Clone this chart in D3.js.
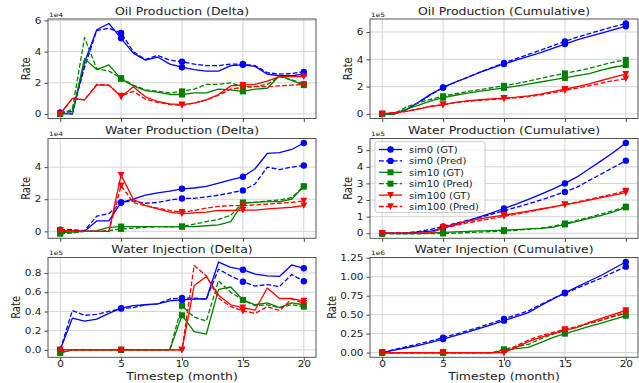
<!DOCTYPE html>
<html><head><meta charset="utf-8">
<script src="https://cdn.jsdelivr.net/npm/d3@7"></script>
<style>
body{margin:0;background:#fff}
svg text{font-family:"DejaVu Sans",sans-serif;fill:#222}
</style>
</head><body>
<svg id="c" width="639" height="383"></svg>
<script>
// ---------------- data ----------------
const timesteps = [0,1,2,3,4,5,6,7,8,9,10,11,12,13,14,15,16,17,18,19,20];
const seriesNames = ["sim0 (GT)","sim0 (Pred)","sim10 (GT)","sim10 (Pred)","sim100 (GT)","sim100 (Pred)"];

// Oil Production (Delta), x1e4
const oilD_s0_gt   = [0.05,0,3.3,5.4,5.8,4.85,3.9,3.45,3.65,3.2,3.0,2.85,2.75,2.75,3.1,3.15,3.05,2.55,2.45,2.45,2.55];
const oilD_s0_pr   = [0.1,0.15,3.0,5.35,5.5,5.2,4.0,3.5,3.75,3.45,3.35,3.2,3.1,3.1,3.2,3.2,3.1,2.65,2.55,2.6,2.7];
const oilD_s10_gt  = [0,0.05,3.55,2.85,3.15,2.25,1.8,1.5,1.4,1.25,1.25,1.35,1.35,1.6,1.55,1.45,1.6,1.65,2.45,2.15,1.85];
const oilD_s10_pr  = [0,0.3,4.9,2.9,2.75,2.3,1.85,1.55,1.45,1.35,1.45,1.6,1.9,1.9,2.0,1.75,1.75,1.9,2.4,2.2,1.9];
const oilD_s100_gt = [0,1.0,0.9,1.85,1.85,1.1,1.75,1.1,0.8,0.65,0.6,0.7,0.9,1.25,1.8,1.85,1.9,2.1,2.4,2.4,2.4];
const oilD_s100_pr = [0,1.0,0.9,1.9,1.85,1.15,1.45,0.95,0.75,0.6,0.55,0.7,0.9,1.2,1.6,1.7,1.75,1.75,1.8,1.85,1.9];

// Oil Production (Cumulative), x1e5
const oilC_s0_gt   = [0,0,0.33,0.87,1.45,1.94,2.33,2.67,3.04,3.36,3.66,3.94,4.22,4.49,4.80,5.12,5.42,5.68,5.92,6.17,6.42];
const oilC_s0_pr   = [0.01,0.02,0.32,0.86,1.41,1.93,2.33,2.68,3.05,3.40,3.73,4.05,4.36,4.67,4.99,5.31,5.62,5.88,6.14,6.40,6.62];
const oilC_s10_gt  = [0,0.01,0.36,0.65,0.96,1.19,1.37,1.52,1.66,1.78,1.91,2.04,2.18,2.34,2.49,2.64,2.80,2.96,3.21,3.42,3.58];
const oilC_s10_pr  = [0,0.03,0.52,0.81,1.09,1.30,1.48,1.64,1.78,1.92,2.06,2.22,2.41,2.60,2.80,2.97,3.15,3.34,3.58,3.80,3.96];
const oilC_s100_gt = [0,0.10,0.19,0.38,0.56,0.67,0.85,0.96,1.04,1.10,1.16,1.23,1.32,1.45,1.63,1.81,2.00,2.21,2.45,2.69,2.92];
const oilC_s100_pr = [0,0.10,0.19,0.38,0.57,0.68,0.83,0.92,1.00,1.06,1.11,1.18,1.27,1.39,1.55,1.72,1.90,2.07,2.25,2.44,2.58];

// Water Production (Delta), x1e4
const watD_s0_gt   = [0,0.05,0,0.65,0.65,1.8,2.0,2.25,2.4,2.5,2.65,2.7,2.8,3.0,3.2,3.4,3.9,4.85,4.9,5.1,5.5];
const watD_s0_pr   = [0.1,0.1,0.05,0.95,1.1,1.8,1.9,1.75,1.8,1.95,2.05,2.05,2.15,2.25,2.4,2.55,2.95,4.0,3.85,4.0,4.1];
const watD_s10_gt  = [-0.1,-0.05,0,0.05,0.25,0.3,0.3,0.3,0.3,0.28,0.3,0.3,0.35,0.4,0.6,1.75,1.8,1.85,1.85,2.0,2.8];
const watD_s10_pr  = [-0.15,-0.1,0,0,0.05,0.15,0.2,0.25,0.3,0.3,0.3,0.45,0.6,0.75,1.0,1.8,1.8,1.9,1.95,2.1,2.8];
const watD_s100_gt = [0.05,0.05,0,0,0,3.5,2.0,1.6,1.4,1.2,1.1,1.15,1.2,1.3,1.3,1.32,1.32,1.4,1.45,1.5,1.6];
const watD_s100_pr = [0.05,0.05,0,0,0,2.85,1.8,1.6,1.45,1.3,1.2,1.3,1.45,1.55,1.6,1.6,1.65,1.7,1.75,1.8,1.9];

// Water Production (Cumulative), x1e5
const watC_s0_gt   = [0,0.01,0.01,0.07,0.13,0.31,0.51,0.74,0.98,1.23,1.49,1.76,2.04,2.34,2.66,3.00,3.39,3.88,4.37,4.88,5.43];
const watC_s0_pr   = [0.01,0.02,0.03,0.12,0.23,0.41,0.60,0.77,0.95,1.15,1.35,1.56,1.77,2.00,2.24,2.49,2.78,3.18,3.57,3.97,4.37];
const watC_s10_gt  = [-0.01,-0.02,-0.02,-0.01,0.02,0.05,0.08,0.11,0.14,0.16,0.19,0.22,0.26,0.30,0.36,0.53,0.71,0.90,1.08,1.28,1.56];
const watC_s10_pr  = [-0.02,-0.03,-0.03,-0.03,-0.02,-0.01,0.01,0.04,0.07,0.10,0.13,0.18,0.24,0.31,0.41,0.59,0.77,0.96,1.16,1.37,1.60];
const watC_s100_gt = [0.01,0.01,0.01,0.01,0.01,0.36,0.56,0.72,0.86,0.98,1.09,1.21,1.33,1.46,1.59,1.72,1.85,1.99,2.14,2.29,2.45];
const watC_s100_pr = [0.01,0.01,0.01,0.01,0.01,0.30,0.47,0.62,0.76,0.89,1.02,1.15,1.29,1.43,1.58,1.72,1.88,2.04,2.20,2.37,2.55];

// Water Injection (Delta), x1e5
const injD_s0_gt   = [0,0.33,0.30,0.32,0.38,0.435,0.46,0.47,0.48,0.51,0.52,0.53,0.53,0.915,0.86,0.835,0.79,0.77,0.765,0.885,0.85];
const injD_s0_pr   = [0,0.41,0.36,0.37,0.40,0.43,0.44,0.47,0.48,0.53,0.54,0.54,0.53,0.84,0.77,0.71,0.665,0.68,0.66,0.785,0.715];
const injD_s10_gt  = [-0.03,0,0,0,0,0,0,0,0,0,0.36,0.19,0.165,0.63,0.655,0.52,0.47,0.49,0.44,0.49,0.47];
const injD_s10_pr  = [-0.03,0,0,0,0,0,0,0,0,0,0.46,0.34,0.30,0.72,0.60,0.52,0.46,0.47,0.44,0.47,0.45];
const injD_s100_gt = [0,0,0,0,0,0,0,0,0,0,0,0.67,0.765,0.57,0.47,0.44,0.415,0.645,0.535,0.535,0.51];
const injD_s100_pr = [0,0,0,0,0,0,0,0,0,0,0,0.88,0.77,0.54,0.45,0.405,0.38,0.45,0.41,0.53,0.485];

// Water Injection (Cumulative), x1e6
const injC_s0_gt   = [0,0.033,0.063,0.095,0.133,0.177,0.223,0.270,0.318,0.369,0.421,0.474,0.527,0.618,0.704,0.788,0.867,0.944,1.020,1.109,1.194];
const injC_s0_pr   = [0,0.041,0.077,0.114,0.154,0.197,0.241,0.288,0.336,0.389,0.443,0.497,0.550,0.634,0.711,0.782,0.849,0.917,0.983,1.061,1.133];
const injC_s10_gt  = [-0.003,-0.003,-0.003,-0.003,-0.003,-0.003,-0.003,-0.003,-0.003,-0.003,0.033,0.052,0.069,0.132,0.197,0.249,0.296,0.345,0.389,0.438,0.485];
const injC_s10_pr  = [-0.003,-0.003,-0.003,-0.003,-0.003,-0.003,-0.003,-0.003,-0.003,-0.003,0.043,0.077,0.107,0.179,0.239,0.291,0.337,0.384,0.428,0.475,0.520];
const injC_s100_gt = [0,0,0,0,0,0,0,0,0,0,0,0.067,0.144,0.201,0.248,0.292,0.333,0.398,0.451,0.505,0.556];
const injC_s100_pr = [0,0,0,0,0,0,0,0,0,0,0,0.088,0.165,0.219,0.264,0.305,0.343,0.388,0.429,0.482,0.530];

// tick labels
const xTicks = [0,5,10,15,20];
const oilDTicks = [0,2,4,6];
const oilCTicks = [0,2,4,6];
const watDTicks = [0,2,4];
const watCTicks = [0,1,2,3,4,5];
const injDTicks = [0,0.2,0.4,0.6,0.8];
const injCTicks = [0,0.25,0.5,0.75,1.0,1.25];

// ---------------- styles / layout ----------------
const colors  = ["#0000ff","#0000ff","#008000","#008000","#ff0000","#ff0000"];
const dashed  = [false,true,false,true,false,true];
const markers = ["circle","circle","square","square","tri","tri"];
const markEvery = 5;
const SQ = 0.8; // vertical squash of the text in the reference
const cols = [{x0:48,x1:316},{x0:370,x1:638}];
const rows = [{y0:19,y1:118.5},{y0:138.5,y1:238.3},{y0:257.5,y1:357.3}];

const panels = [
  {title:"Oil Production (Delta)", exp:"1e4", c:0, r:0, ticks:oilDTicks, fmt:d3.format("d"),
   series:[oilD_s0_gt,oilD_s0_pr,oilD_s10_gt,oilD_s10_pr,oilD_s100_gt,oilD_s100_pr]},
  {title:"Oil Production (Cumulative)", exp:"1e5", c:1, r:0, ticks:oilCTicks, fmt:d3.format("d"),
   series:[oilC_s0_gt,oilC_s0_pr,oilC_s10_gt,oilC_s10_pr,oilC_s100_gt,oilC_s100_pr]},
  {title:"Water Production (Delta)", exp:"1e4", c:0, r:1, ticks:watDTicks, fmt:d3.format("d"),
   series:[watD_s0_gt,watD_s0_pr,watD_s10_gt,watD_s10_pr,watD_s100_gt,watD_s100_pr]},
  {title:"Water Production (Cumulative)", exp:"1e5", c:1, r:1, ticks:watCTicks, fmt:d3.format("d"), legend:true,
   series:[watC_s0_gt,watC_s0_pr,watC_s10_gt,watC_s10_pr,watC_s100_gt,watC_s100_pr]},
  {title:"Water Injection (Delta)", exp:"1e5", c:0, r:2, ticks:injDTicks, fmt:d3.format(".1f"),
   series:[injD_s0_gt,injD_s0_pr,injD_s10_gt,injD_s10_pr,injD_s100_gt,injD_s100_pr]},
  {title:"Water Injection (Cumulative)", exp:"1e6", c:1, r:2, ticks:injCTicks, fmt:d3.format(".2f"),
   series:[injC_s0_gt,injC_s0_pr,injC_s10_gt,injC_s10_pr,injC_s100_gt,injC_s100_pr]}
];

const svg = d3.select("#c");
svg.append("rect").attr("width",639).attr("height",383).attr("fill","#fff");

function addText(g, x, y, str, size, anchor, extra, sq){
  return g.append("text")
    .attr("transform",`translate(${x},${y}) scale(1,${sq||SQ})${extra||""}`)
    .attr("text-anchor",anchor||"start").attr("font-size",size+"px").text(str);
}

function drawMarker(g, type, cx, cy, color){
  if(type==="circle"){
    g.append("circle").attr("cx",cx).attr("cy",cy).attr("r",3.2).attr("fill",color);
  } else if(type==="square"){
    g.append("rect").attr("x",cx-3).attr("y",cy-3).attr("width",6).attr("height",6).attr("fill",color);
  } else {
    g.append("path").attr("d",`M${cx-3.4},${cy-3.2}L${cx+3.4},${cy-3.2}L${cx},${cy+3.4}Z`).attr("fill",color);
  }
}

panels.forEach(p=>{
  const C = cols[p.c], R = rows[p.r];
  const x = d3.scaleLinear().domain([-1,21]).range([C.x0,C.x1]);
  const all = p.series.flat();
  const lo = d3.min(all), hi = d3.max(all), pad = (hi-lo)*0.05;
  const y = d3.scaleLinear().domain([lo-pad,hi+pad]).range([R.y1,R.y0]);
  const g = svg.append("g");

  // grid
  g.selectAll(".gx").data(xTicks).enter().append("line")
    .attr("x1",d=>x(d)).attr("x2",d=>x(d)).attr("y1",R.y0).attr("y2",R.y1)
    .attr("stroke","#d4d4d4").attr("stroke-width",1);
  g.selectAll(".gy").data(p.ticks).enter().append("line")
    .attr("x1",C.x0).attr("x2",C.x1).attr("y1",d=>y(d)).attr("y2",d=>y(d))
    .attr("stroke","#d4d4d4").attr("stroke-width",1);

  // series
  const clipId = "clip"+p.c+p.r;
  svg.append("clipPath").attr("id",clipId).append("rect")
    .attr("x",C.x0).attr("y",R.y0).attr("width",C.x1-C.x0).attr("height",R.y1-R.y0);
  const sg = g.append("g").attr("clip-path",`url(#${clipId})`);
  const line = d3.line().x((d,i)=>x(timesteps[i])).y(d=>y(d));
  p.series.forEach((s,k)=>{
    sg.append("path").attr("d",line(s)).attr("fill","none")
      .attr("stroke",colors[k]).attr("stroke-width",1.3)
      .attr("stroke-linejoin","round")
      .attr("stroke-dasharray",dashed[k]?"4.8,2.1":null);
    s.forEach((v,i)=>{ if(i%markEvery===0) drawMarker(sg,markers[k],x(timesteps[i]),y(v),colors[k]); });
  });

  // axes
  const ya = g.append("g").attr("transform",`translate(${C.x0},0)`)
    .call(d3.axisLeft(y).tickValues(p.ticks).tickFormat(p.fmt).tickSize(3.5).tickPadding(3));
  const xa = g.append("g").attr("transform",`translate(0,${R.y1})`)
    .call(d3.axisBottom(x).tickValues(xTicks).tickFormat(p.r===2?d3.format("d"):()=>"").tickSize(3.5).tickPadding(3));
  [ya,xa].forEach(a=>{
    a.select(".domain").remove();
    a.selectAll("line").attr("stroke","#444");
    a.selectAll("text").attr("font-size","10.5px").attr("fill","#222").style("font-family","DejaVu Sans");
  });
  ya.selectAll("text").attr("transform",`scale(1,${SQ})`);
  xa.selectAll("text").attr("dy",null).attr("y",9.4/SQ).attr("transform",`scale(1,${SQ})`);

  // frame
  g.append("rect").attr("x",C.x0).attr("y",R.y0).attr("width",C.x1-C.x0).attr("height",R.y1-R.y0)
    .attr("fill","none").attr("stroke","#555").attr("stroke-width",1);

  // ylabel
  let maxW = 0;
  ya.selectAll("text").each(function(){ maxW = Math.max(maxW,this.getComputedTextLength()); });
  const lx = C.x0 - 3.5 - 3 - maxW - 8.5;
  const my = (R.y0+R.y1)/2;
  addText(g, lx, my, "Rate", 12.5, "middle", " rotate(-90)").attr("dominant-baseline","central");

  // title
  addText(g, (C.x0+C.x1)/2, R.y0-4.5, p.title, 12.5, "middle");

  // exponent
  addText(g, C.x0+1, R.y0-2.5, p.exp, 7.5, "start");

  // xlabel
  if(p.r===2){
    addText(g, (C.x0+C.x1)/2, 379.5, "Timestep (month)", 12.5, "middle");
  }

  // legend
  if(p.legend){
    const lg = g.append("g");
    lg.append("rect").attr("x",375).attr("y",141.5).attr("width",110).attr("height",71).attr("rx",2.5)
      .attr("fill","#fff").attr("fill-opacity",0.8).attr("stroke","#cccccc").attr("stroke-width",1);
    seriesNames.forEach((n,k)=>{
      const yy = 149.5 + k*11.4;
      lg.append("line").attr("x1",379).attr("x2",402).attr("y1",yy).attr("y2",yy)
        .attr("stroke",colors[k]).attr("stroke-width",1.3).attr("stroke-dasharray",dashed[k]?"4.8,2.1":null);
      drawMarker(lg,markers[k],390.5,yy,colors[k]);
      addText(lg, 409, yy, n, 10, "start", "", 0.95).attr("dominant-baseline","central");
    });
  }
});
</script>
</body></html>
